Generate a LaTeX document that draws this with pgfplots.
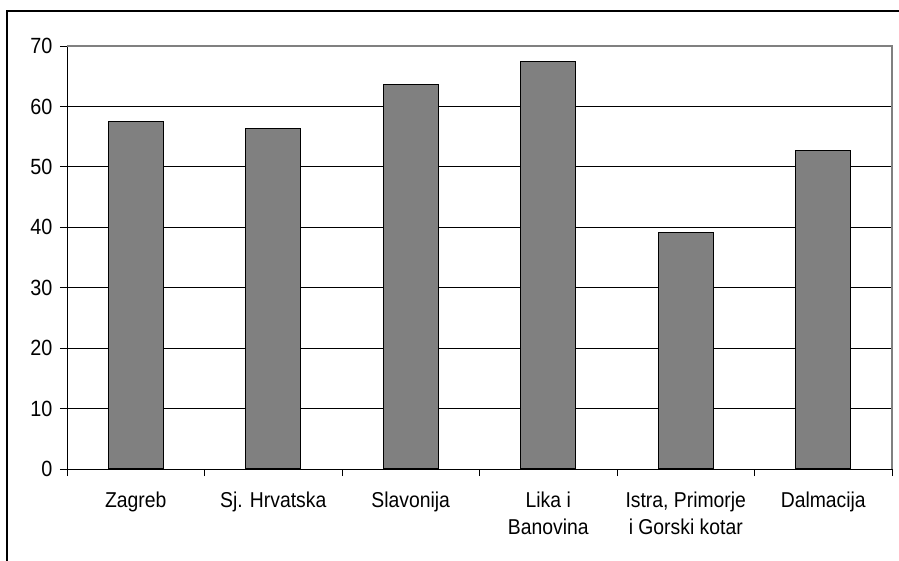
\documentclass[border=0pt]{standalone}
\usepackage{pgfplots}
\pgfplotsset{compat=1.18}
\usepackage{fontspec}
\setmainfont{Liberation Sans}[FakeStretch=0.9]
\definecolor{barfill}{HTML}{808080}
\begin{document}
\begin{tikzpicture}[x=1pt,y=1pt]
	\useasboundingbox (0,0) rectangle (899,560);
	% outer chart frame (only left and top edges are visible)
	\draw[line width=2pt] (6.5,-5) -- (6.5,549) -- (905,549);
	\begin{axis}[
	at={(67pt,91pt)},
	anchor=south west,
	scale only axis,
	width=825pt,
	height=423pt,
	font=\fontsize{22}{27}\selectfont,
	/pgf/number format/assume math mode=true,
	xmin=-0.5, xmax=5.5,
	ymin=0, ymax=70,
	ytick={0,10,...,70},
	xtick={-0.5,0.5,...,5.5},
	xticklabels={},
	extra x ticks={0,1,2,3,4,5},
	extra x tick labels={Zagreb,Sj. Hrvatska,Slavonija,{Lika i\\Banovina},{Istra, Primorje\\i Gorski kotar},Dalmacija},
	extra x tick style={major tick length=0pt, tick style={draw=none},
		tick label style={align=center, anchor=north, yshift=-19.5pt,
			font=\fontsize{21.5}{27}\selectfont}},
	tick align=outside,
	major tick length=7pt,
	tick style={black, line width=1pt},
	axis x line*=bottom,
	axis y line*=left,
	axis line style={black, line width=1pt},
	ymajorgrids,
	grid style={black, line width=1pt},
	yticklabel style={xshift=-4pt},
	ybar,
	bar width=0.4,
	after end axis/.code={
		\draw[barfill, line width=1.5pt] (rel axis cs:0,1) -- (rel axis cs:1,1) -- (rel axis cs:1,0);
	},
	]
	\addplot[fill=barfill, draw=black, line width=1.3pt] coordinates {
		(0,57.5) (1,56.4) (2,63.6) (3,67.4) (4,39.1) (5,52.7)};
	\end{axis}
\end{tikzpicture}
\end{document}
